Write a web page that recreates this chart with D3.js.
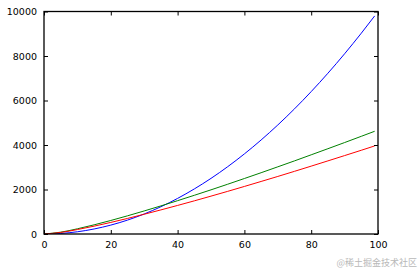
<!DOCTYPE html>
<html>
<head>
<meta charset="utf-8">
<script src="https://cdn.jsdelivr.net/npm/d3@7"></script>
<style>
  body { margin: 0; background: #fff; }
  svg { display: block; }
  .tick text { font-family: "DejaVu Sans", sans-serif; font-size: 9.5px; fill: #000; }
</style>
</head>
<body>
<div id="chart"></div>
<script>
var width = 420;
var height = 271;

// sample positions along x, and the three curves
var xs        = [0, 5, 10, 15, 20, 25, 30, 35, 40, 45, 50, 55, 60, 65, 70, 75, 80, 85, 90, 95, 99];
var blueVals  = [0, 25, 100, 225, 400, 625, 900, 1225, 1600, 2025, 2500, 3025, 3600, 4225, 4900, 5625, 6400, 7225, 8100, 9025, 9801];
var greenVals = [0, 82, 234, 412, 608, 817, 1036, 1263, 1498, 1739, 1985, 2237, 2494, 2754, 3019, 3286, 3559, 3833, 4110, 4391, 4617];
var redVals   = [0, 70, 200, 353, 521, 700, 888, 1083, 1284, 1490, 1702, 1917, 2137, 2361, 2587, 2817, 3050, 3286, 3524, 3764, 3958];

var xTicks = [0, 20, 40, 60, 80, 100];
var yTicks = [0, 2000, 4000, 6000, 8000, 10000];

var series = [
    { name: "blue", color: "#0000ff", values: blueVals },
    { name: "green", color: "#008000", values: greenVals },
    { name: "red", color: "#ff0000", values: redVals }
];

var plot = { left: 44, top: 11.5, right: 378, bottom: 234 };

var svg = d3.select("#chart").append("svg")
    .attr("width", width)
    .attr("height", height);

var x = d3.scaleLinear().domain([0, 100]).range([plot.left, plot.right]);
var y = d3.scaleLinear().domain([0, 10000]).range([plot.bottom, plot.top]);

var line = d3.line()
    .x(function(d) { return x(d[0]); })
    .y(function(d) { return y(d[1]); })
    .curve(d3.curveMonotoneX);

svg.append("clipPath").attr("id", "plotClip")
    .append("rect")
    .attr("x", plot.left).attr("y", plot.top)
    .attr("width", plot.right - plot.left)
    .attr("height", plot.bottom - plot.top);

svg.append("g").attr("clip-path", "url(#plotClip)")
    .selectAll("path")
    .data(series)
    .enter().append("path")
    .attr("d", function(s) {
        return line(xs.map(function(v, i) { return [v, s.values[i]]; }));
    })
    .attr("fill", "none")
    .attr("stroke", function(s) { return s.color; })
    .attr("stroke-width", 1);

// axes with inward ticks on all four sides (classic matplotlib look)
var tickLen = 4;

var bottomAxis = d3.axisBottom(x).tickValues(xTicks).tickFormat(d3.format("d"))
    .tickSizeInner(-tickLen).tickSizeOuter(0).tickPadding(7);
var topAxis = d3.axisTop(x).tickValues(xTicks).tickFormat("")
    .tickSizeInner(-tickLen).tickSizeOuter(0);
var leftAxis = d3.axisLeft(y).tickValues(yTicks).tickFormat(d3.format("d"))
    .tickSizeInner(-tickLen).tickSizeOuter(0).tickPadding(7);
var rightAxis = d3.axisRight(y).tickValues(yTicks).tickFormat("")
    .tickSizeInner(-tickLen).tickSizeOuter(0);

function styleAxis(g) {
    g.select(".domain").remove();
    g.selectAll(".tick line").attr("stroke", "#000").attr("stroke-width", 1);
    g.attr("font-family", null).attr("font-size", null);
}

svg.append("g").attr("transform", "translate(0," + plot.bottom + ")").call(bottomAxis).call(styleAxis);
svg.append("g").attr("transform", "translate(0," + plot.top + ")").call(topAxis).call(styleAxis);
svg.append("g").attr("transform", "translate(" + plot.left + ",0)").call(leftAxis).call(styleAxis);
svg.append("g").attr("transform", "translate(" + plot.right + ",0)").call(rightAxis).call(styleAxis);

// frame
svg.append("rect")
    .attr("x", plot.left).attr("y", plot.top)
    .attr("width", plot.right - plot.left)
    .attr("height", plot.bottom - plot.top)
    .attr("fill", "none")
    .attr("stroke", "#000")
    .attr("stroke-width", 1.3);

// watermark
svg.append("text")
    .attr("x", 417).attr("y", 266)
    .attr("text-anchor", "end")
    .attr("font-family", "'Noto Sans CJK SC', sans-serif")
    .attr("font-size", 9)
    .attr("fill", "#b8b8b8")
    .text("@稀土掘金技术社区");
</script>
</body>
</html>
